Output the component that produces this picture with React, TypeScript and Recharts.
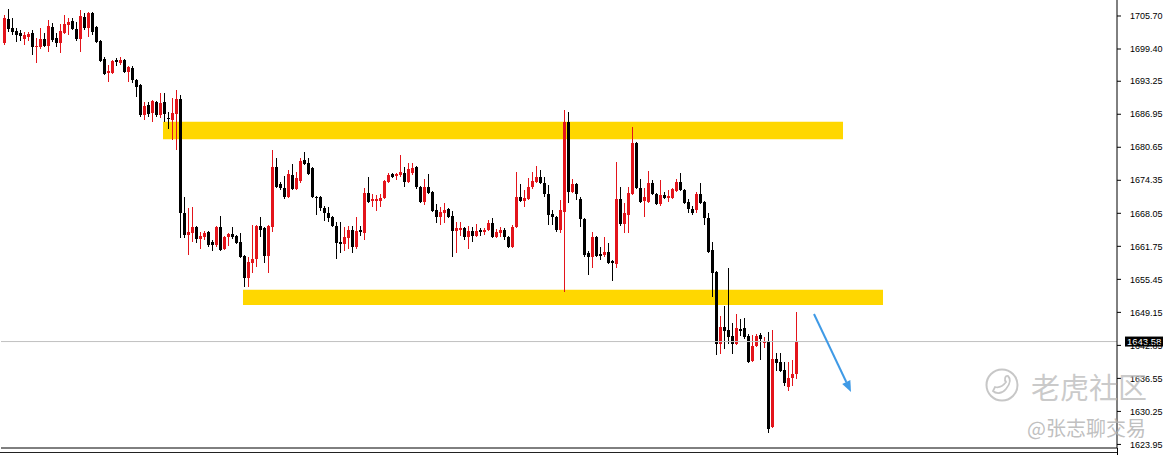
import React from 'react';
import { ComposedChart, Bar, XAxis, YAxis, ReferenceArea, ReferenceLine } from 'recharts';

// [open, high, low, close] for each candle, oldest first
const ohlc: [number, number, number, number][] = [
  [1700.55, 1705.89, 1700.17, 1705.31], [1705.12, 1707.03, 1702.65, 1703.22], [1703.41, 1705.31, 1702.08, 1702.65],
  [1702.84, 1703.41, 1700.74, 1702.08], [1702.46, 1703.03, 1700.93, 1701.88], [1701.31, 1702.65, 1700.17, 1702.08],
  [1701.69, 1702.65, 1700.93, 1702.27], [1702.46, 1703.03, 1698.26, 1699.78], [1699.78, 1701.5, 1696.73, 1699.97],
  [1699.78, 1703.41, 1699.4, 1701.31], [1701.31, 1702.46, 1699.78, 1699.97], [1699.97, 1704.93, 1698.83, 1703.79],
  [1703.6, 1704.36, 1700.74, 1701.12], [1701.5, 1702.46, 1699.78, 1700.55], [1700.55, 1704.17, 1698.64, 1702.84],
  [1702.46, 1705.89, 1702.27, 1704.17], [1703.98, 1705.31, 1702.08, 1704.55], [1704.74, 1705.31, 1703.03, 1703.22],
  [1703.22, 1704.55, 1700.93, 1701.31], [1701.31, 1706.84, 1698.83, 1705.7], [1705.51, 1706.27, 1703.03, 1703.41],
  [1703.41, 1706.46, 1701.69, 1706.27], [1706.27, 1706.46, 1702.08, 1702.65], [1703.6, 1703.79, 1700.55, 1700.74],
  [1700.93, 1701.12, 1696.92, 1697.11], [1697.49, 1697.88, 1694.44, 1694.63], [1694.82, 1696.35, 1693.11, 1695.2],
  [1694.82, 1697.3, 1694.63, 1697.11], [1697.3, 1697.68, 1696.16, 1696.92], [1696.73, 1697.87, 1696.35, 1697.3],
  [1697.3, 1697.49, 1694.82, 1695.01], [1695.01, 1696.16, 1693.11, 1695.97], [1695.78, 1696.16, 1692.92, 1693.49],
  [1693.49, 1693.68, 1690.25, 1692.15], [1692.54, 1692.73, 1686.43, 1686.81], [1686.81, 1689.29, 1685.85, 1688.53],
  [1688.72, 1689.29, 1686.43, 1687.0], [1687.19, 1689.67, 1685.47, 1689.48], [1689.29, 1689.48, 1686.43, 1686.81],
  [1686.81, 1691.01, 1686.24, 1689.1], [1689.29, 1691.01, 1685.47, 1687.0], [1686.24, 1687.38, 1684.14, 1686.05],
  [1685.85, 1690.05, 1682.04, 1687.19], [1687.0, 1691.58, 1680.13, 1689.86], [1689.86, 1690.62, 1663.34, 1668.11],
  [1668.11, 1671.16, 1663.34, 1663.91], [1663.91, 1669.06, 1660.1, 1664.48], [1664.29, 1669.25, 1662.58, 1665.44],
  [1665.44, 1665.63, 1662.39, 1663.15], [1663.15, 1664.48, 1661.24, 1663.72], [1663.53, 1664.68, 1662.96, 1664.29],
  [1664.48, 1664.68, 1661.62, 1662.01], [1662.58, 1662.96, 1660.86, 1662.01], [1662.01, 1665.63, 1661.62, 1665.44],
  [1665.44, 1667.54, 1660.86, 1661.05], [1661.24, 1663.72, 1661.05, 1663.53], [1663.53, 1664.29, 1661.82, 1664.1],
  [1664.1, 1665.44, 1663.15, 1663.53], [1663.72, 1663.91, 1662.2, 1662.39], [1662.58, 1664.29, 1659.52, 1659.71],
  [1659.9, 1660.1, 1653.99, 1655.71], [1655.71, 1659.71, 1653.99, 1658.76], [1658.57, 1665.82, 1656.66, 1659.33],
  [1659.33, 1665.82, 1657.81, 1665.63], [1665.63, 1667.35, 1663.53, 1664.87], [1665.25, 1665.44, 1658.57, 1659.9],
  [1659.9, 1665.82, 1656.66, 1665.63], [1665.44, 1680.13, 1664.48, 1676.88], [1676.88, 1678.6, 1672.88, 1673.07],
  [1673.64, 1674.03, 1672.5, 1672.88], [1672.88, 1675.17, 1670.78, 1671.16], [1671.16, 1676.31, 1670.97, 1675.55],
  [1675.36, 1677.46, 1672.5, 1672.69], [1672.69, 1675.93, 1672.5, 1674.79], [1674.22, 1678.6, 1673.84, 1678.03],
  [1678.22, 1679.75, 1677.27, 1677.46], [1677.65, 1678.6, 1675.36, 1675.55], [1676.69, 1676.88, 1670.97, 1671.16],
  [1671.16, 1671.35, 1667.73, 1670.97], [1671.16, 1671.35, 1668.49, 1669.06], [1669.06, 1669.44, 1666.58, 1668.11],
  [1668.11, 1669.25, 1666.39, 1667.16], [1667.35, 1667.54, 1665.44, 1665.63], [1665.63, 1666.39, 1659.33, 1662.39],
  [1662.58, 1666.39, 1660.48, 1662.2], [1662.2, 1665.44, 1660.86, 1663.53], [1663.34, 1665.63, 1661.24, 1664.87],
  [1664.87, 1665.63, 1660.48, 1661.62], [1661.62, 1667.35, 1661.24, 1664.68], [1664.87, 1665.63, 1663.72, 1664.48],
  [1664.29, 1672.88, 1662.96, 1671.92], [1671.92, 1674.98, 1670.02, 1670.21], [1670.4, 1671.73, 1669.25, 1670.78],
  [1670.4, 1671.54, 1668.49, 1670.78], [1670.4, 1671.73, 1669.25, 1670.97], [1670.97, 1674.41, 1670.78, 1674.22],
  [1674.03, 1675.74, 1673.84, 1675.36], [1675.55, 1675.74, 1674.79, 1674.98], [1675.17, 1675.74, 1674.41, 1675.55],
  [1675.36, 1679.17, 1674.98, 1675.93], [1675.74, 1676.88, 1673.07, 1674.03], [1674.03, 1677.65, 1673.84, 1676.5],
  [1675.74, 1677.65, 1675.36, 1676.69], [1676.88, 1677.07, 1672.69, 1673.07], [1673.07, 1673.26, 1670.02, 1670.21],
  [1670.21, 1674.6, 1669.64, 1673.07], [1673.07, 1675.55, 1671.73, 1671.92], [1672.11, 1672.31, 1668.3, 1668.49],
  [1668.68, 1669.83, 1666.2, 1667.35], [1667.35, 1669.25, 1665.82, 1668.3], [1668.11, 1670.02, 1666.2, 1668.68],
  [1668.87, 1669.06, 1667.16, 1667.35], [1667.54, 1668.49, 1659.71, 1664.68], [1664.68, 1666.39, 1660.48, 1665.25],
  [1664.87, 1666.39, 1663.72, 1665.25], [1665.25, 1665.44, 1662.96, 1663.53], [1663.53, 1665.63, 1661.24, 1664.68],
  [1664.68, 1665.44, 1662.58, 1663.72], [1663.72, 1666.01, 1663.53, 1664.68], [1664.87, 1665.25, 1663.72, 1664.48],
  [1664.48, 1665.25, 1663.91, 1664.87], [1664.87, 1666.77, 1664.68, 1666.2], [1666.2, 1667.16, 1663.34, 1663.53],
  [1663.53, 1665.06, 1663.34, 1664.48], [1664.29, 1665.44, 1663.53, 1664.87], [1664.87, 1665.25, 1662.96, 1663.53],
  [1663.53, 1663.72, 1661.43, 1661.62], [1661.62, 1665.82, 1661.43, 1665.44], [1665.44, 1675.93, 1665.25, 1671.16],
  [1671.16, 1673.64, 1670.21, 1670.4], [1670.4, 1672.5, 1669.25, 1670.97], [1670.78, 1674.79, 1670.59, 1673.07],
  [1673.07, 1675.93, 1672.69, 1674.22], [1674.03, 1677.07, 1673.84, 1674.98], [1674.98, 1676.31, 1673.64, 1673.84],
  [1673.84, 1674.98, 1671.16, 1671.73], [1671.73, 1673.45, 1665.82, 1667.73], [1667.92, 1668.68, 1665.82, 1667.35],
  [1667.35, 1667.54, 1664.48, 1664.87], [1664.87, 1670.59, 1664.29, 1668.68], [1668.3, 1687.76, 1653.04, 1685.47],
  [1685.47, 1687.38, 1670.02, 1672.11], [1672.11, 1674.6, 1671.92, 1673.64], [1673.64, 1673.84, 1670.59, 1671.73],
  [1670.78, 1671.16, 1665.44, 1666.97], [1666.97, 1667.16, 1659.71, 1660.1], [1660.48, 1660.86, 1656.28, 1659.71],
  [1659.71, 1664.48, 1657.62, 1663.53], [1663.53, 1663.72, 1659.71, 1659.9], [1660.29, 1661.62, 1659.14, 1659.9],
  [1660.1, 1663.53, 1659.71, 1660.67], [1660.67, 1662.39, 1658.38, 1658.57], [1658.95, 1659.14, 1655.14, 1658.57],
  [1658.38, 1677.84, 1657.62, 1670.78], [1670.78, 1673.07, 1665.63, 1666.01], [1666.01, 1670.02, 1664.29, 1668.11],
  [1667.73, 1673.07, 1664.29, 1671.92], [1671.73, 1684.52, 1671.54, 1681.47], [1681.47, 1681.66, 1672.69, 1672.88],
  [1672.88, 1674.6, 1670.02, 1670.21], [1670.4, 1672.88, 1667.35, 1671.16], [1670.21, 1676.12, 1670.02, 1673.84],
  [1673.84, 1674.41, 1671.54, 1671.73], [1671.73, 1671.92, 1669.64, 1669.83], [1669.83, 1674.41, 1669.44, 1671.54],
  [1671.54, 1672.11, 1670.78, 1670.97], [1670.97, 1672.5, 1670.21, 1671.35], [1670.97, 1672.88, 1670.78, 1672.69],
  [1672.31, 1674.6, 1672.11, 1674.03], [1674.03, 1675.74, 1672.31, 1672.5], [1672.5, 1672.69, 1669.83, 1670.02],
  [1670.21, 1670.78, 1668.11, 1668.87], [1668.87, 1669.44, 1667.73, 1668.11], [1668.68, 1672.11, 1668.11, 1671.73],
  [1671.73, 1673.84, 1669.83, 1670.02], [1670.21, 1670.4, 1665.82, 1667.16], [1667.16, 1668.11, 1660.48, 1660.67],
  [1661.05, 1662.58, 1652.08, 1656.66], [1656.85, 1657.04, 1641.01, 1643.12], [1643.12, 1648.45, 1641.21, 1646.36],
  [1646.36, 1650.37, 1642.16, 1645.6], [1645.79, 1657.62, 1643.12, 1644.45], [1644.64, 1647.12, 1641.21, 1643.12],
  [1643.12, 1648.84, 1642.93, 1646.17], [1645.98, 1647.88, 1644.64, 1645.6], [1646.17, 1648.07, 1644.07, 1644.45],
  [1644.64, 1645.02, 1639.49, 1639.68], [1639.87, 1644.83, 1639.68, 1642.73], [1642.73, 1645.02, 1642.54, 1644.64],
  [1644.83, 1645.21, 1640.06, 1644.07], [1643.31, 1644.45, 1642.35, 1643.5], [1643.69, 1645.4, 1626.14, 1626.9],
  [1627.28, 1645.79, 1627.09, 1640.25], [1640.25, 1641.4, 1637.96, 1639.49], [1639.68, 1641.4, 1637.77, 1637.96],
  [1638.15, 1639.68, 1635.1, 1635.68], [1634.91, 1639.68, 1634.15, 1636.63], [1636.63, 1640.06, 1635.1, 1637.39],
  [1637.39, 1649.22, 1636.44, 1643.58],
];

const totalSlots = 279;
const yTicks = [1623.95, 1630.25, 1636.55, 1642.85, 1649.15, 1655.45, 1661.75, 1668.05, 1674.35, 1680.65, 1686.95, 1693.25, 1699.4, 1705.7];
const yDomain: [number, number] = [1623.27, 1708.75];
const currentPrice = 1643.58;
// zones in slot units (x) and price (y)
const resistanceZone = { x1: 40.5, x2: 210.5, y1: 1682.2, y2: 1685.5 };
const supportZone = { x1: 60.5, x2: 220.5, y1: 1650.55, y2: 1653.45 };
const arrowFrom = { x: 203.25, y: 1648.84 };
const arrowTo = { x: 212.5, y: 1633.96 };

const chartData = Array.from({ length: totalSlots }, (_, i) => {
  const c = ohlc[i];
  return c ? { slot: i, open: c[0], high: c[1], low: c[2], close: c[3] } : { slot: i };
});

const UP = '#e3141b';
const DOWN = '#000000';

const Candle = (props: any) => {
  const { x, y, width, height, payload } = props;
  if (!payload || payload.high == null) return null;
  const top = Math.min(y, y + height);
  const bottom = Math.max(y, y + height);
  const range = payload.high - payload.low;
  const ppu = range > 0 ? (bottom - top) / range : 0;
  const yOf = (v: number) => top + (payload.high - v) * ppu;
  const cx = Math.round(x + width / 2);
  const up = payload.close >= payload.open;
  const color = up ? UP : DOWN;
  const bTop = yOf(Math.max(payload.open, payload.close));
  const bBot = yOf(Math.min(payload.open, payload.close));
  return (
    <g shapeRendering="crispEdges">
      <rect x={cx} y={top} width={1} height={Math.max(1, bottom - top)} fill={color} />
      <rect x={cx - 1} y={bTop} width={3} height={Math.max(1, bBot - bTop)} fill={color} />
    </g>
  );
};

const ArrowShape = (p: any) => {
  const { x1, y1, x2, y2 } = p;
  const ang = Math.atan2(y2 - y1, x2 - x1);
  const L = 11, W = 4.5;
  const bx = x2 - L * Math.cos(ang), by = y2 - L * Math.sin(ang);
  const px = -Math.sin(ang), py = Math.cos(ang);
  return (
    <g>
      <line x1={x1} y1={y1} x2={bx} y2={by} stroke="#3f9ae6" strokeWidth={2} />
      <polygon points={`${x2},${y2} ${bx + px * W},${by + py * W} ${bx - px * W},${by - py * W}`} fill="#3f9ae6" />
    </g>
  );
};

const PriceTag = (p: any) => {
  const vb = p.viewBox || {};
  const x = vb.x + vb.width + 8;
  const y = vb.y;
  return (
    <g>
      <rect x={x} y={y - 5} width={38} height={10} fill="#000" />
      <text x={x + 2} y={y + 3.5} fill="#fff" fontSize={9.5} fontFamily="Liberation Sans, Arial, sans-serif">{currentPrice.toFixed(2)}</text>
    </g>
  );
};

export default function App() {
  return (
    <div style={{ position: 'absolute', left: 0, top: 0, width: 1172, height: 455, background: '#fff', overflow: 'hidden' }}>
      <ComposedChart width={1172} height={455} data={chartData} margin={{ top: 0, right: 0, left: 1, bottom: 0 }}>
        <XAxis xAxisId="cat" dataKey="slot" type="category" height={7} tick={false} tickLine={false} axisLine={{ stroke: '#000' }} />
        <XAxis xAxisId="num" dataKey="slot" type="number" domain={[0, totalSlots]} allowDataOverflow hide />
        <YAxis
          yAxisId="p"
          orientation="right"
          width={55}
          domain={yDomain}
          allowDataOverflow
          ticks={yTicks}
          interval={0}
          tickSize={4}
          tickMargin={9}
          tickFormatter={(v: number) => v.toFixed(2)}
          tick={{ fontSize: 9, fill: '#000', fontFamily: 'Liberation Sans, Arial, sans-serif', textAnchor: 'start' }}
          axisLine={{ stroke: '#000' }}
          tickLine={{ stroke: '#000' }}
        />
        <ReferenceArea xAxisId="num" yAxisId="p" x1={resistanceZone.x1} x2={resistanceZone.x2} y1={resistanceZone.y1} y2={resistanceZone.y2} fill="#ffd700" fillOpacity={1} stroke="none" />
        <ReferenceArea xAxisId="num" yAxisId="p" x1={supportZone.x1} x2={supportZone.x2} y1={supportZone.y1} y2={supportZone.y2} fill="#ffd700" fillOpacity={1} stroke="none" />
        <ReferenceLine xAxisId="cat" yAxisId="p" y={currentPrice} stroke="#c0c0c0" strokeWidth={1} label={<PriceTag />} />
        <Bar xAxisId="cat" yAxisId="p" dataKey={(d: any) => (d.high != null ? [d.low, d.high] : null)} barSize={3} shape={<Candle />} isAnimationActive={false} />
        <ReferenceLine xAxisId="num" yAxisId="p" segment={[arrowFrom, arrowTo]} shape={ArrowShape} />
      </ComposedChart>
      <div style={{ position: 'absolute', left: 0, top: 452, width: 1117, height: 1, background: '#222' }} />
      <div style={{ position: 'absolute', left: 1117, top: 448, width: 1, height: 7, background: '#000' }} />
      <svg style={{ position: 'absolute', left: 984, top: 367, pointerEvents: 'none' }} width={38} height={38}>
        <circle cx={18} cy={18} r={15.5} fill="none" stroke="rgba(185,185,185,0.8)" strokeWidth={2} />
        <path d="M9 24 C12 27, 18 27, 22 22 C26 17, 27 12, 24 9 C21 8, 20 13, 22 15 C19 19, 15 21, 11 20 Z" fill="none" stroke="rgba(185,185,185,0.8)" strokeWidth={1.8} />
      </svg>
      <div style={{ position: 'absolute', left: 1031, top: 366, fontSize: 29, lineHeight: '40px', color: 'rgba(185,185,185,0.75)', fontFamily: '"Noto Sans CJK SC", sans-serif', letterSpacing: 0, pointerEvents: 'none', whiteSpace: 'nowrap' }}>老虎社区</div>
      <div style={{ position: 'absolute', left: 1027, top: 414, fontSize: 20, lineHeight: '28px', color: 'rgba(175,175,175,0.8)', fontFamily: '"Noto Sans CJK SC", sans-serif', pointerEvents: 'none', whiteSpace: 'nowrap' }}>@张志聊交易</div>
    </div>
  );
}
